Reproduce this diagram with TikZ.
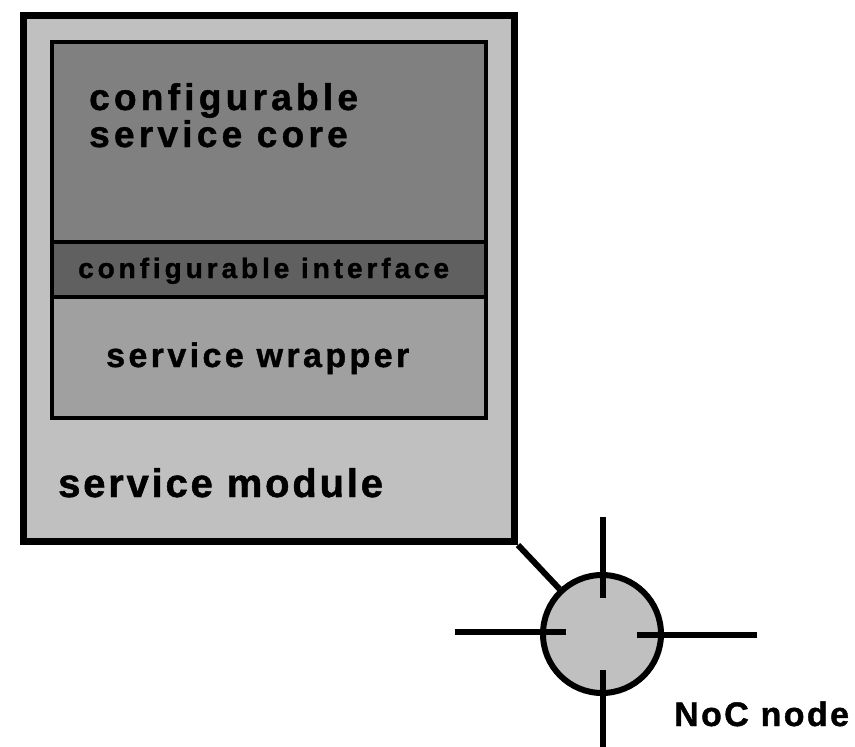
\documentclass[tikz,border=0pt]{standalone}
\usepackage{fontspec}
\setmainfont{Liberation Sans}
% tracked, heavy bold sans for the labels
\newfontfamily\corefont[LetterSpace=11.5,FakeBold=1.2]{Liberation Sans}
\newfontfamily\ifacefont[LetterSpace=14,FakeBold=1.2]{Liberation Sans}
\newfontfamily\wrapfont[LetterSpace=10,FakeBold=1.2]{Liberation Sans}
\newfontfamily\modfont[LetterSpace=7,FakeBold=1.2]{Liberation Sans}
\newfontfamily\nocfont[LetterSpace=7,FakeBold=1.2]{Liberation Sans}
\definecolor{modgray}{HTML}{C0C0C0}
\definecolor{coregray}{HTML}{808080}
\definecolor{ifacegray}{HTML}{606060}
\definecolor{wrapgray}{HTML}{A0A0A0}
\begin{document}
\begin{tikzpicture}[x=1pt,y=-1pt,
  block/.style={draw=black, line width=4pt, rectangle, inner sep=0pt, anchor=north west},
  label/.style={inner sep=0pt, anchor=base west, text=black},
  spoke/.style={line width=6pt}]
  \useasboundingbox (0,0) rectangle (855,747);

  % service module frame
  \node (module) [block, line width=7pt, fill=modgray, minimum width=491pt, minimum height=526pt] at (20,12) {};
  % layers inside the module
  \node (core) [block, fill=coregray, minimum width=434pt, minimum height=200pt] at (50,40) {};
  \node (iface) [block, fill=ifacegray, minimum width=434pt, minimum height=55pt] at (50,240) {};
  \node (wrap) [block, fill=wrapgray, minimum width=434pt, minimum height=121pt] at (50,295) {};

  % NoC router with its four links
  \node (noc) [circle, draw=black, line width=6pt, fill=modgray, minimum size=118pt, inner sep=0pt] at (602,634) {};
  \draw [line width=6pt] (module.south east) -- (noc);
  \draw [spoke] ([shift={(1,-117)}]noc.center) coordinate (nN) -- ([shift={(1,-36)}]noc.center);
  \draw [spoke] ([shift={(1,36)}]noc.center) -- ([shift={(1,118)}]noc.center) coordinate (nS);
  \draw [spoke] ([shift={(-147,-2)}]noc.center) coordinate (nW) -- ([shift={(-36,-2)}]noc.center);
  \draw [spoke] ([shift={(35,1)}]noc.center) -- ([shift={(155,1)}]noc.center) coordinate (nE);

  % texts
  \node (coretxt) [label, align=left, font={\corefont\bfseries\fontsize{37}{37}\selectfont}] at (89,147) {configurable\\service core};
  \node (ifacetxt) [label, font={\ifacefont\bfseries\fontsize{28}{32}\selectfont}] at (78,278) {configurable interface};
  \node (wraptxt) [label, font={\wrapfont\bfseries\fontsize{34}{38}\selectfont}] at (106,367) {service wrapper};
  \node (modtxt) [label, font={\modfont\bfseries\fontsize{40}{44}\selectfont}] at (58,497) {service module};
  \node (noctxt) [label, font={\nocfont\bfseries\fontsize{34}{38}\selectfont}] at (674,726) {NoC node};
\end{tikzpicture}
\end{document}
